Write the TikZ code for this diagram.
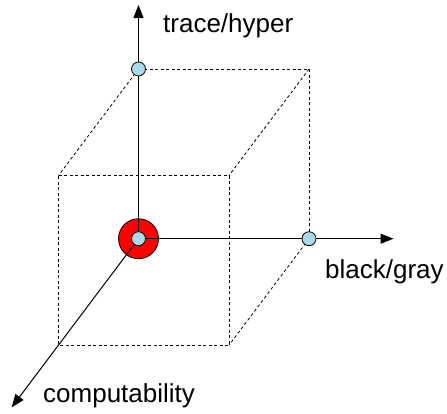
\documentclass[tikz,border=0pt]{standalone}
\usepackage{fontspec}
\setmainfont{Liberation Sans}
\usepackage{tikz}
\usetikzlibrary{arrows.meta, calc}
\definecolor{dotblue}{RGB}{173,216,230}
\definecolor{ringred}{RGB}{255,0,0}
\tikzset{
  axis/.style={draw, line width=1pt, -{Triangle[length=13pt, width=10pt]}},
  cube edge/.style={draw, line width=0.8pt, dash pattern=on 3pt off 2.5pt},
  bluedot/.style={
    circle, draw, line width=0.8pt, fill=dotblue,
    minimum size=14pt, inner sep=0pt
  },
  origin ring/.style={
    circle, draw, line width=0.8pt, fill=ringred,
    minimum size=40pt, inner sep=0pt
  },
  axis label/.style={anchor=base west, inner sep=0pt, font=\fontsize{26}{30}\selectfont},
}

\begin{document}
\begin{tikzpicture}[x=1pt, y=-1pt]
  \useasboundingbox (0,0) rectangle (447,413);

  % back face
  \coordinate (O)  at (138.5,238.7);
  \coordinate (T)  at (138.5,69);
  \coordinate (R)  at (309,238.7);
  \coordinate (TR) at (309,69);
  % front face, shifted down-left
  \coordinate (F)   at ($(O)+(-80,106.5)$);
  \coordinate (FT)  at ($(T)+(-80,106.5)$);
  \coordinate (FR)  at ($(R)+(-80,106.5)$);
  \coordinate (FTR) at ($(TR)+(-80,106.5)$);
  % axis ends
  \coordinate (up end)    at (138.5,5);
  \coordinate (right end) at (393.5,238.7);
  \coordinate (down end)  at (11.7,407.3);

  \draw[cube edge] (T) -- (TR) -- (R);
  \draw[cube edge] (T) -- (FT);
  \draw[cube edge] (TR) -- (FTR);
  \draw[cube edge] (R) -- (FR);
  \draw[cube edge] (FT) -- (FTR) -- (FR) -- (F) -- cycle;

  \node[origin ring] (ring) at (O) {};

  \draw[axis] (ring.center) -- (up end);
  \draw[axis] (ring.center) -- (right end);
  \draw[axis] (ring.center) -- (down end);

  \node[bluedot] (origin) at (O) {};
  \node[bluedot] (hyper)  at (T) {};
  \node[bluedot] (gray)   at (R) {};

  \node[axis label] (hyper label) at (163,32)  {trace/hyper};
  \node[axis label] (gray label)  at (325,278) {black/gray};
  \node[axis label] (comp label)  at (43,402)  {computability};
\end{tikzpicture}
\end{document}
